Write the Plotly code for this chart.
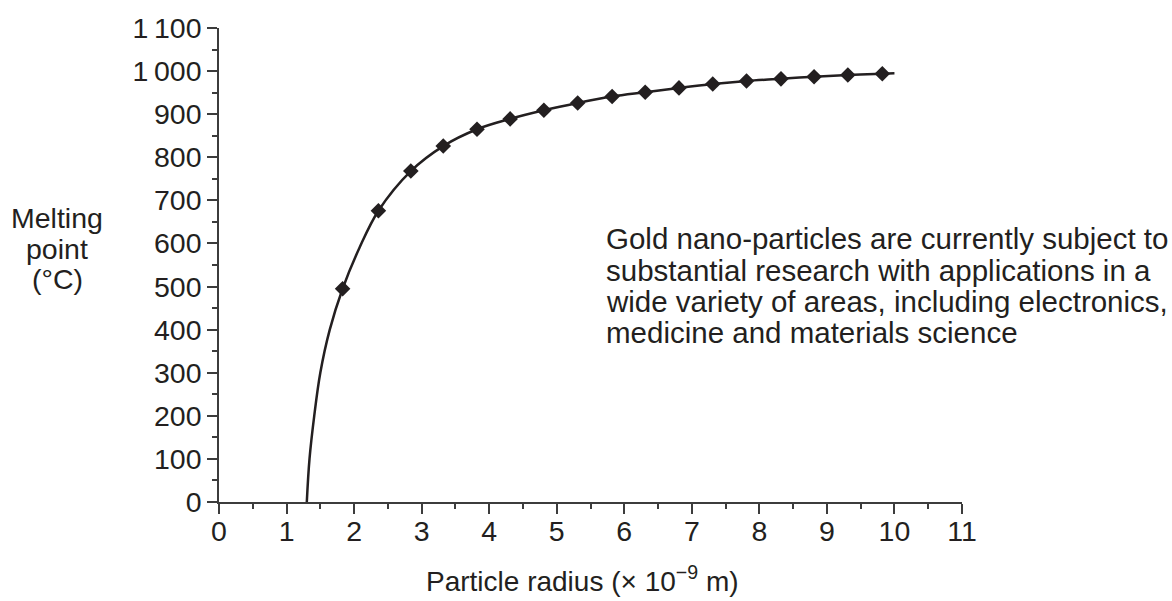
import plotly.graph_objects as go

# ---- data ----
curve_x = [1.30, 1.34, 1.41, 1.50, 1.64, 1.83, 2.08, 2.36, 2.84, 3.32, 3.82, 4.31, 4.81,
           5.31, 5.82, 6.31, 6.81, 7.31, 7.81, 8.32, 8.81, 9.31, 9.82, 10.0]
curve_y = [0, 100, 200, 300, 400, 495, 590, 676, 768, 826, 865, 889, 909,
           926, 941, 951, 961, 970, 977, 982, 987, 991, 994, 995]
marker_x = [1.83, 2.36, 2.84, 3.32, 3.82, 4.31, 4.81, 5.31, 5.82, 6.31, 6.81, 7.31,
            7.81, 8.32, 8.81, 9.31, 9.82]
marker_y = [495, 676, 768, 826, 865, 889, 909, 926, 941, 951, 961, 970,
            977, 982, 987, 991, 994]
y_tickvals = [0, 100, 200, 300, 400, 500, 600, 700, 800, 900, 1000, 1100]
y_ticktext = ["0", "100", "200", "300", "400", "500", "600", "700", "800", "900",
              "1\u2009000", "1\u2009100"]
x_tickvals = list(range(0, 12))
x_ticktext = [str(v) for v in x_tickvals]
note_lines = ["Gold nano-particles are currently subject to",
              "substantial research with applications in a",
              "wide variety of areas, including electronics,",
              "medicine and materials science"]
ytitle_lines = ["Melting", "point", "(°C)"]
xtitle = "Particle radius (× 10<sup>−9</sup> m)"

INK = "#231f20"
AX = "#3c3c3c"
FONT = "Liberation Sans, Arial, sans-serif"

W, H = 1172, 601
L, R, T, B = 219, 210, 25, 99
PW, PH = W - L - R, H - T - B


def px(x):
    return (x - L) / PW


def py(y):
    return (H - B - y) / PH


fig = go.Figure()
fig.add_trace(go.Scatter(x=curve_x, y=curve_y, mode="lines",
                         line=dict(color=INK, width=2.5, shape="spline", smoothing=1.0),
                         hoverinfo="skip", showlegend=False))
fig.add_trace(go.Scatter(x=marker_x, y=marker_y, mode="markers",
                         marker=dict(symbol="diamond", size=12, color=INK,
                                     line=dict(width=0)),
                         showlegend=False))

annotations = []
for i, t in enumerate(note_lines):
    annotations.append(dict(text=t, xref="paper", yref="paper",
                            x=px(604), y=py(237 + i * 31.6), xanchor="left",
                            yanchor="middle", showarrow=False,
                            font=dict(family=FONT, size=29.5, color=INK)))
for i, t in enumerate(ytitle_lines):
    annotations.append(dict(text=t, xref="paper", yref="paper",
                            x=px(57), y=py(216 + i * 31), xanchor="center",
                            yanchor="middle", showarrow=False,
                            font=dict(family=FONT, size=28.5, color=INK)))
annotations.append(dict(text=xtitle, xref="paper", yref="paper",
                        x=px(582), y=py(579), xanchor="center", yanchor="middle",
                        showarrow=False, font=dict(family=FONT, size=28, color=INK)))

fig.update_layout(
    width=W, height=H,
    margin=dict(l=L, r=R, t=T, b=B, pad=0),
    paper_bgcolor="white", plot_bgcolor="white",
    showlegend=False,
    font=dict(family=FONT, size=28, color=INK),
    annotations=annotations,
    xaxis=dict(range=[0, 11], tickvals=x_tickvals, ticktext=x_ticktext,
               showgrid=False, zeroline=False, showline=True, linecolor=AX,
               linewidth=1.5, ticks="outside", ticklen=10, tickwidth=1.5,
               tickcolor=AX, tickfont=dict(family=FONT, size=28.5, color=INK),
               ticklabelstandoff=-7,
               minor=dict(dtick=0.5, ticks="outside", ticklen=5, tickwidth=1.5,
                          tickcolor=AX, showgrid=False),
               fixedrange=True),
    yaxis=dict(range=[0, 1100], tickvals=y_tickvals, ticktext=y_ticktext,
               showgrid=False, zeroline=False, showline=True, linecolor=AX,
               linewidth=1.5, ticks="outside", ticklen=10, tickwidth=1.5,
               tickcolor=AX, tickfont=dict(family=FONT, size=28.5, color=INK),
               minor=dict(dtick=50, ticks="outside", ticklen=5, tickwidth=1.5,
                          tickcolor=AX, showgrid=False),
               fixedrange=True),
)

fig.write_html("out.html")
